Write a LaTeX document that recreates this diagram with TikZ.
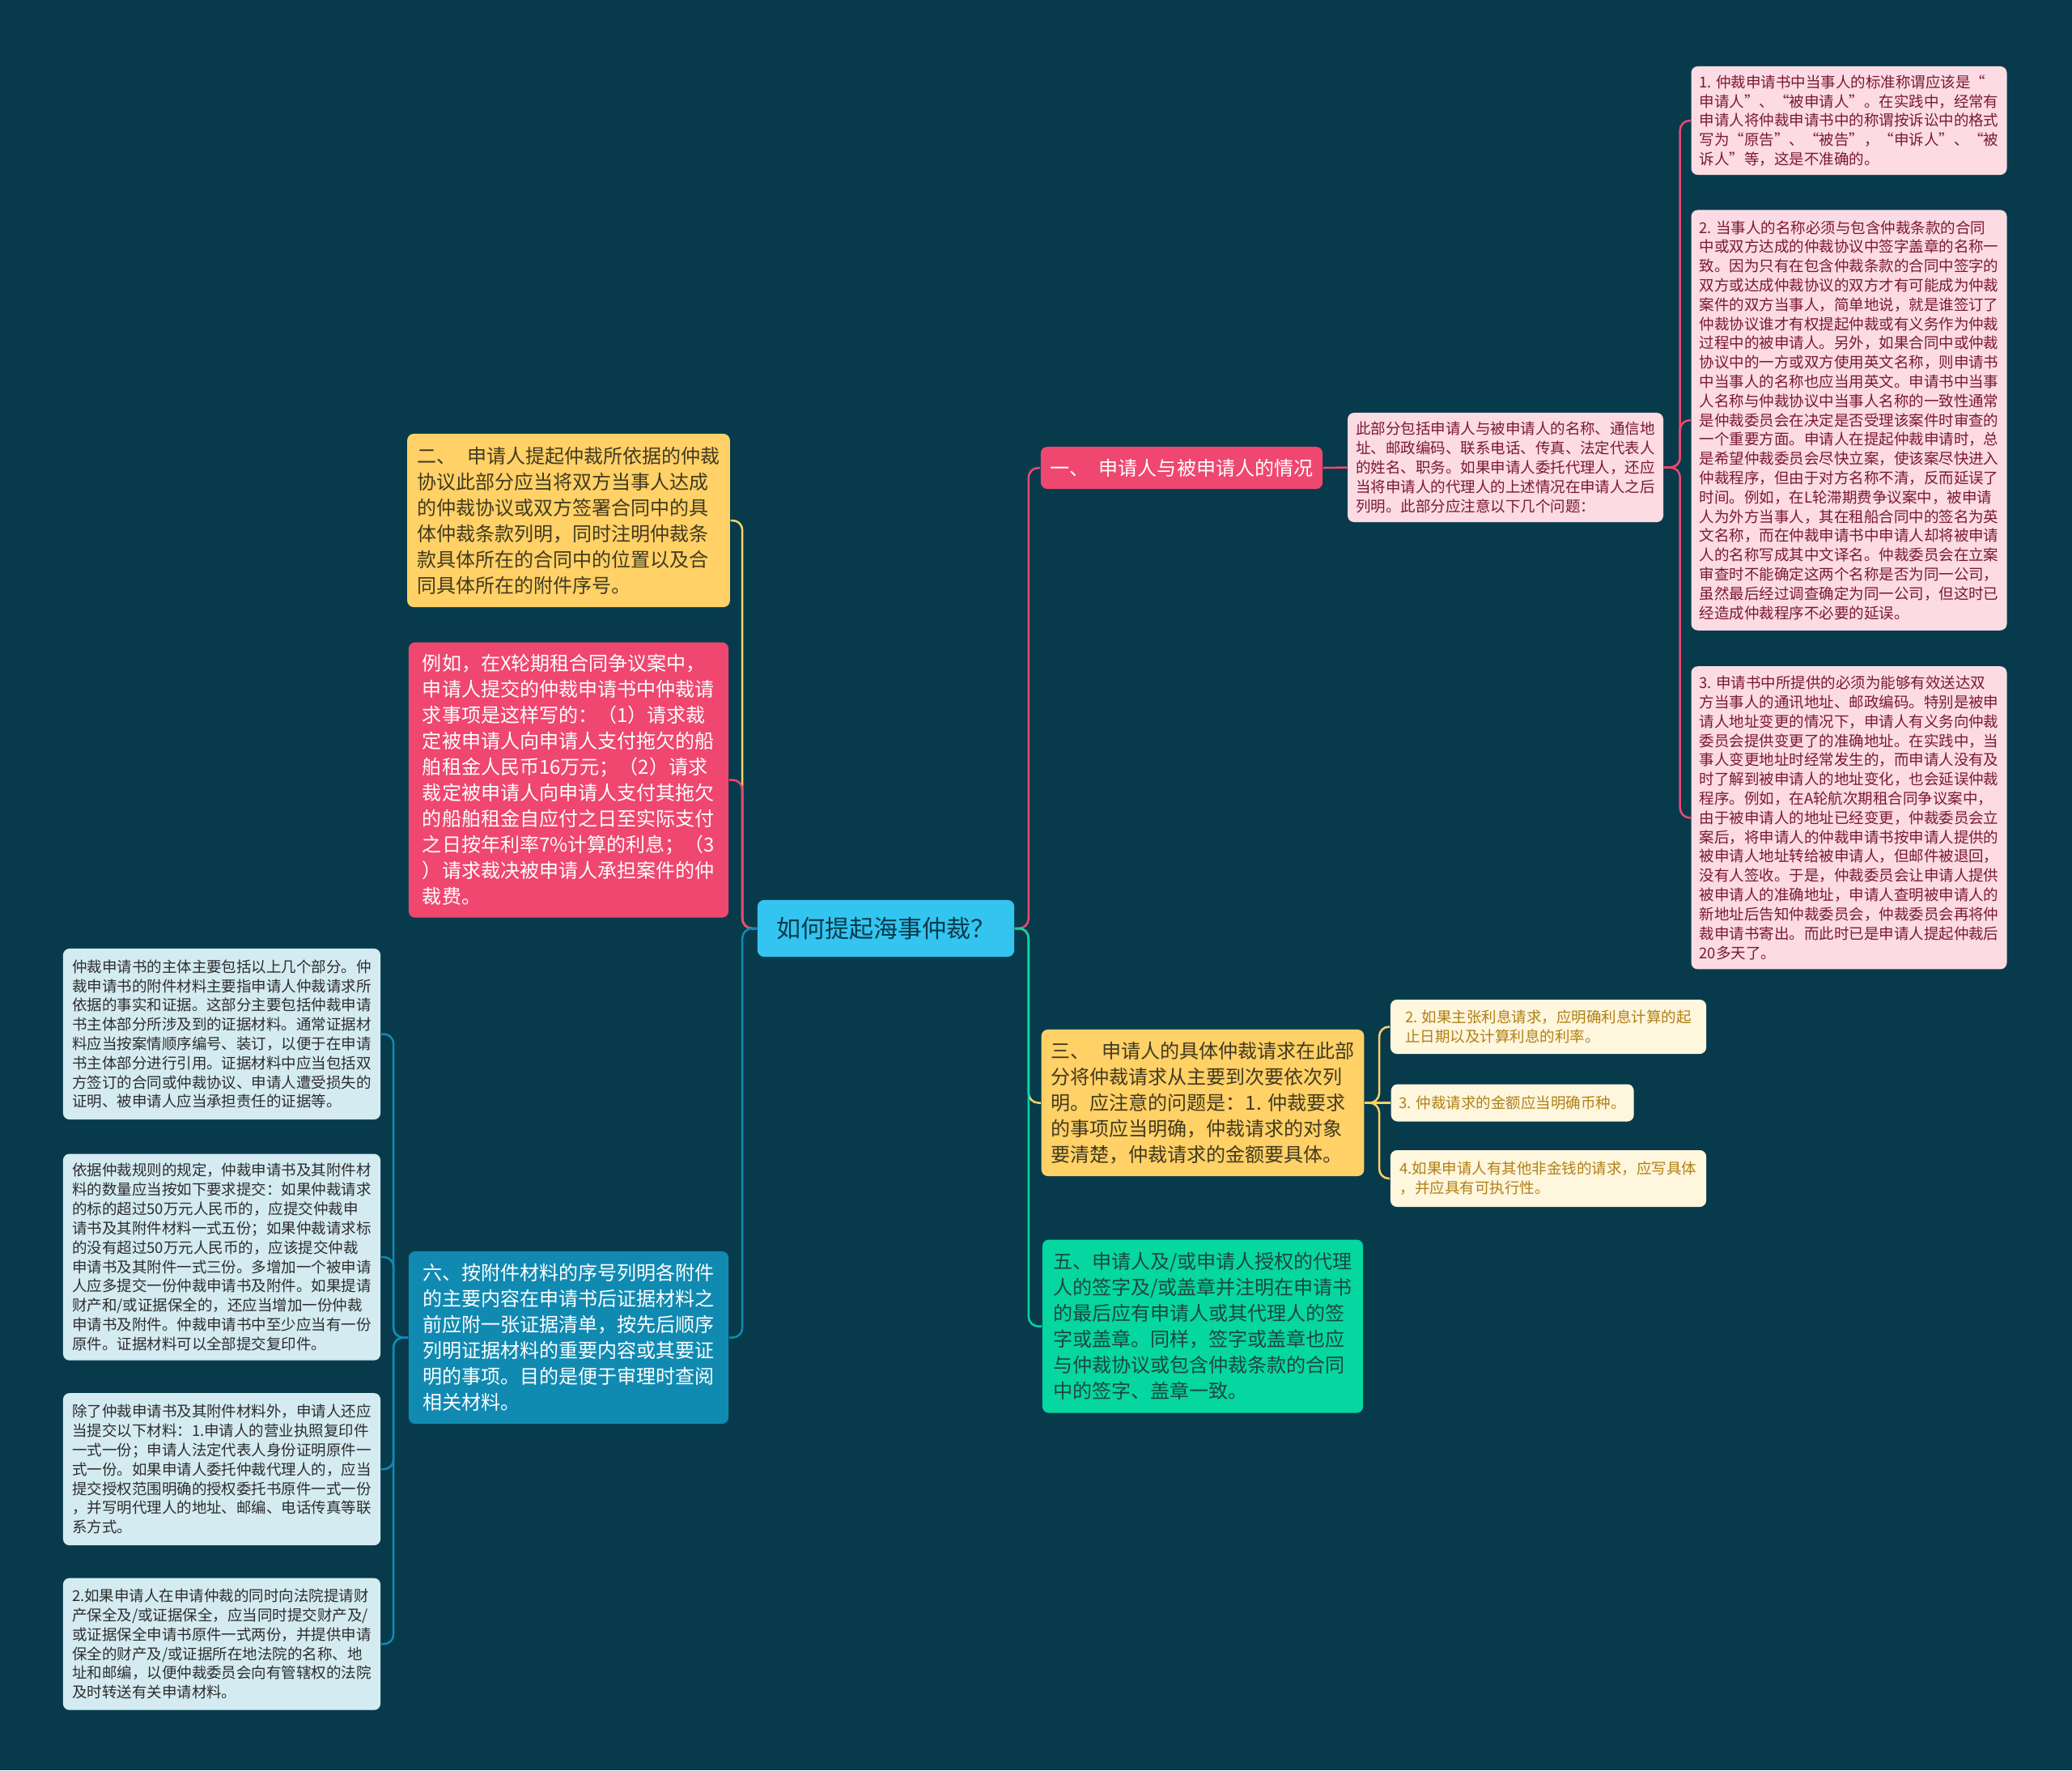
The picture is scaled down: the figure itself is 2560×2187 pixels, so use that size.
\documentclass[tikz,border=0pt]{standalone}
\usepackage{fontspec}
\setmainfont{Noto Sans CJK SC}
\usetikzlibrary{positioning}
\definecolor{bgcolor}{RGB}{7,59,76}
\definecolor{rootcolor}{RGB}{52,196,240}
\definecolor{pinkcolor}{RGB}{239,71,111}
\definecolor{yellowcolor}{RGB}{255,209,102}
\definecolor{greencolor}{RGB}{6,214,160}
\definecolor{bluecolor}{RGB}{17,138,178}
\definecolor{pinkleaf}{RGB}{252,219,227}
\definecolor{creamleaf}{RGB}{255,246,222}
\definecolor{blueleaf}{RGB}{212,235,242}
\definecolor{pinktext}{RGB}{122,24,54}
\definecolor{creamtext}{RGB}{176,128,20}
\definecolor{yellowtext}{RGB}{66,58,32}
\definecolor{greentext}{RGB}{28,72,62}
\definecolor{greytext}{RGB}{45,45,45}
\newcommand{\leaffont}{\fontsize{5.26pt}{6.77pt}\selectfont}
\newcommand{\branchfont}{\fontsize{6.83pt}{9.1pt}\selectfont}
\tikzset{
    topic/.style={rectangle, rounded corners=0.08cm, fill=rootcolor, text=bgcolor,
        font=\fontsize{8.54pt}{10pt}\selectfont, minimum width=3.17cm, minimum height=0.7cm},
    branch/.style={rectangle, rounded corners=0.08cm, align=left, font=\branchfont,
        inner xsep=0.12cm, inner ysep=0.08cm, minimum width=3.95cm},
    leaf/.style={rectangle, rounded corners=0.08cm, align=left, font=\leaffont,
        inner xsep=0.1cm, inner ysep=0.08cm, minimum width=3.9cm},
    link/.style={line width=0.025cm, rounded corners=0.12cm}
}

\begin{document}
\begin{tikzpicture}[x=0.01cm, y=-0.01cm]

    \fill[bgcolor] (0,0) rectangle (2560,2187);

    \node[topic] (root) at (1094.5,1147) {如何提起海事仲裁？};

    \node[branch, fill=pinkcolor, text=white, minimum width=3.4cm, minimum height=0.52cm] (one) at (1460,578) {一、\hspace{0.5em}申请人与被申请人的情况};

    \node[leaf, fill=pinkleaf, text=pinktext, minimum width=3.88cm, minimum height=1.35cm] (intro) at (1860,577.5) {此部分包括申请人与被申请人的名称、通信地\\%
址、邮政编码、联系电话、传真、法定代表人\\%
的姓名、职务。如果申请人委托代理人，还应\\%
当将申请人的代理人的上述情况在申请人之后\\%
列明。此部分应注意以下几个问题：};

    \node[leaf, fill=pinkleaf, text=pinktext, minimum width=3.89cm, minimum height=1.34cm] (name1) at (2284.5,149) {1. 仲裁申请书中当事人的标准称谓应该是“\\%
申请人”、“被申请人”。在实践中，经常有\\%
申请人将仲裁申请书中的称谓按诉讼中的格式\\%
写为“原告”、“被告”，“申诉人”、“被\\%
诉人”等，这是不准确的。};

    \node[leaf, fill=pinkleaf, text=pinktext, minimum width=3.89cm, minimum height=5.19cm, below=0.42cm of name1] (name2) {2. 当事人的名称必须与包含仲裁条款的合同\\%
中或双方达成的仲裁协议中签字盖章的名称一\\%
致。因为只有在包含仲裁条款的合同中签字的\\%
双方或达成仲裁协议的双方才有可能成为仲裁\\%
案件的双方当事人，简单地说，就是谁签订了\\%
仲裁协议谁才有权提起仲裁或有义务作为仲裁\\%
过程中的被申请人。另外，如果合同中或仲裁\\%
协议中的一方或双方使用英文名称，则申请书\\%
中当事人的名称也应当用英文。申请书中当事\\%
人名称与仲裁协议中当事人名称的一致性通常\\%
是仲裁委员会在决定是否受理该案件时审查的\\%
一个重要方面。申请人在提起仲裁申请时，总\\%
是希望仲裁委员会尽快立案，使该案尽快进入\\%
仲裁程序，但由于对方名称不清，反而延误了\\%
时间。例如，在L轮滞期费争议案中，被申请\\%
人为外方当事人，其在租船合同中的签名为英\\%
文名称，而在仲裁申请书中申请人却将被申请\\%
人的名称写成其中文译名。仲裁委员会在立案\\%
审查时不能确定这两个名称是否为同一公司，\\%
虽然最后经过调查确定为同一公司，但这时已\\%
经造成仲裁程序不必要的延误。};

    \node[leaf, fill=pinkleaf, text=pinktext, minimum width=3.89cm, minimum height=3.74cm, below=0.43cm of name2] (name3) {3. 申请书中所提供的必须为能够有效送达双\\%
方当事人的通讯地址、邮政编码。特别是被申\\%
请人地址变更的情况下，申请人有义务向仲裁\\%
委员会提供变更了的准确地址。在实践中，当\\%
事人变更地址时经常发生的，而申请人没有及\\%
时了解到被申请人的地址变化，也会延误仲裁\\%
程序。例如，在A轮航次期租合同争议案中，\\%
由于被申请人的地址已经变更，仲裁委员会立\\%
案后，将申请人的仲裁申请书按申请人提供的\\%
被申请人地址转给被申请人，但邮件被退回，\\%
没有人签收。于是，仲裁委员会让申请人提供\\%
被申请人的准确地址，申请人查明被申请人的\\%
新地址后告知仲裁委员会，仲裁委员会再将仲\\%
裁申请书寄出。而此时已是申请人提起仲裁后\\%
20多天了。};

    \node[branch, fill=yellowcolor, text=yellowtext, minimum height=2.14cm] (two) at (702.5,643) {二、\hspace{0.6em}申请人提起仲裁所依据的仲裁\\%
协议此部分应当将双方当事人达成\\%
的仲裁协议或双方签署合同中的具\\%
体仲裁条款列明，同时注明仲裁条\\%
款具体所在的合同中的位置以及合\\%
同具体所在的附件序号。};

    \node[branch, fill=pinkcolor, text=white, minimum height=3.4cm, below=0.42cm of two] (case) {例如，在X轮期租合同争议案中，\\%
申请人提交的仲裁申请书中仲裁请\\%
求事项是这样写的：（1）请求裁\\%
定被申请人向申请人支付拖欠的船\\%
舶租金人民币16万元；（2）请求\\%
裁定被申请人向申请人支付其拖欠\\%
的船舶租金自应付之日至实际支付\\%
之日按年利率7\%计算的利息；（3\\%
）请求裁决被申请人承担案件的仲\\%
裁费。};

    \node[branch, fill=bluecolor, text=white, minimum height=2.13cm] (six) at (702.5,1652.5) {六、按附件材料的序号列明各附件\\%
的主要内容在申请书后证据材料之\\%
前应附一张证据清单，按先后顺序\\%
列明证据材料的重要内容或其要证\\%
明的事项。目的是便于审理时查阅\\%
相关材料。};

    \node[leaf, fill=blueleaf, text=greytext, minimum width=3.92cm, minimum height=2.11cm] (body) at (274,1277.5) {仲裁申请书的主体主要包括以上几个部分。仲\\%
裁申请书的附件材料主要指申请人仲裁请求所\\%
依据的事实和证据。这部分主要包括仲裁申请\\%
书主体部分所涉及到的证据材料。通常证据材\\%
料应当按案情顺序编号、装订，以便于在申请\\%
书主体部分进行引用。证据材料中应当包括双\\%
方签订的合同或仲裁协议、申请人遭受损失的\\%
证明、被申请人应当承担责任的证据等。};

    \node[leaf, fill=blueleaf, text=greytext, minimum width=3.92cm, minimum height=2.55cm, below=0.41cm of body] (copies) {依据仲裁规则的规定，仲裁申请书及其附件材\\%
料的数量应当按如下要求提交：如果仲裁请求\\%
的标的超过50万元人民币的，应提交仲裁申\\%
请书及其附件材料一式五份；如果仲裁请求标\\%
的没有超过50万元人民币的，应该提交仲裁\\%
申请书及其附件一式三份。多增加一个被申请\\%
人应多提交一份仲裁申请书及附件。如果提请\\%
财产和/或证据保全的，还应当增加一份仲裁\\%
申请书及附件。仲裁申请书中至少应当有一份\\%
原件。证据材料可以全部提交复印件。};

    \node[leaf, fill=blueleaf, text=greytext, minimum width=3.92cm, minimum height=1.88cm, below=0.39cm of copies] (extra) {除了仲裁申请书及其附件材料外，申请人还应\\%
当提交以下材料：1.申请人的营业执照复印件\\%
一式一份；申请人法定代表人身份证明原件一\\%
式一份。如果申请人委托仲裁代理人的，应当\\%
提交授权范围明确的授权委托书原件一式一份\\%
，并写明代理人的地址、邮编、电话传真等联\\%
系方式。};

    \node[leaf, fill=blueleaf, text=greytext, minimum width=3.92cm, minimum height=1.63cm, below=0.39cm of extra] (preserve) {2.如果申请人在申请仲裁的同时向法院提请财\\%
产保全及/或证据保全，应当同时提交财产及/\\%
或证据保全申请书原件一式两份，并提供申请\\%
保全的财产及/或证据所在地法院的名称、地\\%
址和邮编，以便仲裁委员会向有管辖权的法院\\%
及时转送有关申请材料。};

    \node[branch, fill=yellowcolor, text=yellowtext, minimum width=3.96cm, minimum height=1.81cm] (three) at (1486,1362.5) {三、\hspace{0.6em}申请人的具体仲裁请求在此部\\%
分将仲裁请求从主要到次要依次列\\%
明。应注意的问题是：1. 仲裁要求\\%
的事项应当明确，仲裁请求的对象\\%
要清楚，仲裁请求的金额要具体。};

    \node[branch, fill=greencolor, text=greentext, minimum width=3.96cm, minimum height=2.14cm, below=0.77cm of three] (five) {五、申请人及/或申请人授权的代理\\%
人的签字及/或盖章并注明在申请书\\%
的最后应有申请人或其代理人的签\\%
字或盖章。同样，签字或盖章也应\\%
与仲裁协议或包含仲裁条款的合同\\%
中的签字、盖章一致。};

    \node[leaf, fill=creamleaf, text=creamtext, minimum height=0.67cm] (interest) at (1913,1268.5) {2. 如果主张利息请求，应明确利息计算的起\\%
止日期以及计算利息的利率。};

    \node[leaf, fill=creamleaf, text=creamtext, minimum width=2.99cm, minimum height=0.46cm, anchor=west] (currency) at (1718,1362.5) {3. 仲裁请求的金额应当明确币种。};

    \node[leaf, fill=creamleaf, text=creamtext, minimum height=0.7cm] (nonmoney) at (1913,1456) {4.如果申请人有其他非金钱的请求，应写具体\\%
，并应具有可执行性。};

    \draw[link, pinkcolor] (root.east) -- ++(17,0) |- (one.west);
    \draw[link, yellowcolor] (root.east) -- ++(17,0) |- (three.west);
    \draw[link, greencolor] (root.east) -- ++(17,0) |- (five.west);
    \draw[link, yellowcolor] (root.west) -- ++(-18,0) |- (two.east);
    \draw[link, pinkcolor] (root.west) -- ++(-18,0) |- (case.east);
    \draw[link, bluecolor] (root.west) -- ++(-18,0) |- (six.east);
    \draw[link, pinkcolor] (one.east) -- (intro.west);
    \foreach \n in {name1,name2,name3}
        \draw[link, pinkcolor] (intro.east) -- ++(20,0) |- (\n.west);
    \foreach \n in {interest,nonmoney}
        \draw[link, yellowcolor] (three.east) -- ++(18,0) |- (\n.west);
    \draw[link, yellowcolor] (three.east) -- (currency.west);
    \foreach \n in {body,copies,extra,preserve}
        \draw[link, bluecolor] (six.west) -- ++(-18,0) |- (\n.east);

\end{tikzpicture}
\end{document}
